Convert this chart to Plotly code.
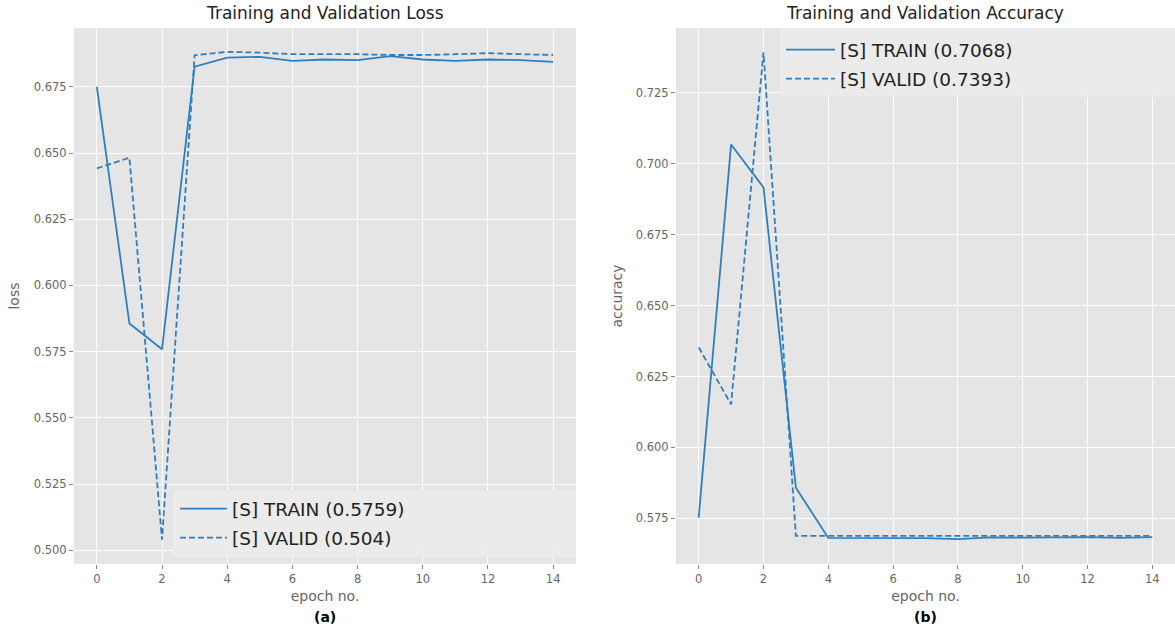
import plotly.graph_objects as go

epochs = list(range(15))
train_loss = [0.6750, 0.5856, 0.5759, 0.6826, 0.6860, 0.6863, 0.6848, 0.6853, 0.6851,
              0.6866, 0.6853, 0.6848, 0.6853, 0.6851, 0.6844]
valid_loss = [0.6442, 0.6482, 0.5040, 0.6869, 0.6882, 0.6879, 0.6873, 0.6873, 0.6873,
              0.6870, 0.6870, 0.6873, 0.6877, 0.6873, 0.6870]
train_acc = [0.5752, 0.7068, 0.6917, 0.5858, 0.5681, 0.5681, 0.5681, 0.5680, 0.5677,
             0.5683, 0.5682, 0.5682, 0.5684, 0.5681, 0.5684]
valid_acc = [0.6353, 0.6152, 0.7393, 0.5688, 0.5688, 0.5688, 0.5688, 0.5688, 0.5688,
             0.5688, 0.5688, 0.5688, 0.5688, 0.5688, 0.5688]

loss_names = ["[S] TRAIN (0.5759)", "[S] VALID (0.504)"]
acc_names = ["[S] TRAIN (0.7068)", "[S] VALID (0.7393)"]
x_ticks = [0, 2, 4, 6, 8, 10, 12, 14]
loss_ticks = [0.500, 0.525, 0.550, 0.575, 0.600, 0.625, 0.650, 0.675]
acc_ticks = [0.575, 0.600, 0.625, 0.650, 0.675, 0.700, 0.725]

W, H = 1175, 633
BLUE = "#2f7fbf"
FONT = "DejaVu Sans"

def px(x):
    return x / W

def py(y):
    return 1 - y / H

fig = go.Figure()

fig.add_trace(go.Scatter(x=epochs, y=train_loss, mode="lines", name=loss_names[0],
                         line=dict(color=BLUE, width=1.8), xaxis="x", yaxis="y",
                         legend="legend", legendgroup="a1"))
fig.add_trace(go.Scatter(x=epochs, y=valid_loss, mode="lines", name=loss_names[1],
                         line=dict(color=BLUE, width=1.8, dash="6px,3px"), xaxis="x", yaxis="y",
                         legend="legend", legendgroup="a2"))
fig.add_trace(go.Scatter(x=epochs, y=train_acc, mode="lines", name=acc_names[0],
                         line=dict(color=BLUE, width=1.8), xaxis="x2", yaxis="y2",
                         legend="legend2", legendgroup="b1"))
fig.add_trace(go.Scatter(x=epochs, y=valid_acc, mode="lines", name=acc_names[1],
                         line=dict(color=BLUE, width=1.8, dash="6px,3px"), xaxis="x2", yaxis="y2",
                         legend="legend2", legendgroup="b2"))

axis_common = dict(showgrid=True, gridcolor="white", gridwidth=1, zeroline=False,
                   showline=False, ticks="outside", ticklen=4, tickcolor="#888888",
                   automargin=False,
                   tickfont=dict(family=FONT, size=11.5, color="#666666"))
title_font = dict(family=FONT, size=14, color="#666666")
legend_font = dict(family=FONT, size=18.5, color="#222222")

fig.update_layout(
    width=W, height=H,
    margin=dict(l=0, r=0, t=0, b=0),
    paper_bgcolor="white", plot_bgcolor="#e5e5e5",
    font=dict(family=FONT, color="#555555"),
    xaxis=dict(domain=[px(74), px(576)], range=[-0.7, 14.7], tickvals=x_ticks,
               anchor="y", title=dict(text="epoch no.", standoff=6, font=title_font),
               **axis_common),
    yaxis=dict(domain=[py(564), py(28)], range=[0.4948, 0.6972], tickvals=loss_ticks,
               tickformat=".3f", anchor="x",
               title=dict(text="loss", standoff=10, font=title_font),
               **axis_common),
    xaxis2=dict(domain=[px(676), 1.0], range=[-0.7, 14.7], tickvals=x_ticks,
                anchor="y2", title=dict(text="epoch no.", standoff=6, font=title_font),
                **axis_common),
    yaxis2=dict(domain=[py(564), py(28)], range=[0.5589, 0.7479], tickvals=acc_ticks,
                tickformat=".3f", anchor="x2",
                title=dict(text="accuracy", standoff=9, font=title_font),
                **axis_common),
    legend=dict(x=px(175), y=py(490), xanchor="left", yanchor="top",
                bgcolor="rgba(0,0,0,0)", borderwidth=0, itemwidth=47,
                tracegroupgap=2, traceorder="grouped", font=legend_font),
    legend2=dict(x=px(781), y=py(31), xanchor="left", yanchor="top",
                 bgcolor="rgba(0,0,0,0)", borderwidth=0, itemwidth=49,
                 tracegroupgap=2, traceorder="grouped", font=legend_font),
    showlegend=True,
)

# legend frames
fig.add_shape(type="rect", xref="paper", yref="paper", x0=px(173), x1=px(576),
              y0=py(557), y1=py(490), fillcolor="#ebebeb", line=dict(width=0),
              layer="above", opacity=0.95)
fig.add_shape(type="rect", xref="paper", yref="paper", x0=px(780), x1=1.0,
              y0=py(97), y1=py(28), fillcolor="#ebebeb", line=dict(width=0),
              layer="above", opacity=0.95)

fig.add_annotation(text="Training and Validation Loss", x=px(325), y=py(13), xref="paper",
                   yref="paper", xanchor="center", yanchor="middle", showarrow=False,
                   font=dict(family=FONT, size=17, color="#222222"))
fig.add_annotation(text="Training and Validation Accuracy", x=px(925), y=py(13), xref="paper",
                   yref="paper", xanchor="center", yanchor="middle", showarrow=False,
                   font=dict(family=FONT, size=17, color="#222222"))
fig.add_annotation(text="<b>(a)</b>", x=px(325), y=py(617), xref="paper", yref="paper",
                   xanchor="center", yanchor="middle", showarrow=False,
                   font=dict(family=FONT, size=14, color="black"))
fig.add_annotation(text="<b>(b)</b>", x=px(925), y=py(617), xref="paper", yref="paper",
                   xanchor="center", yanchor="middle", showarrow=False,
                   font=dict(family=FONT, size=14, color="black"))

fig.write_html("out.html", config={"displayModeBar": False},
               post_script="document.body.style.margin='0';document.body.style.overflow='hidden';")
